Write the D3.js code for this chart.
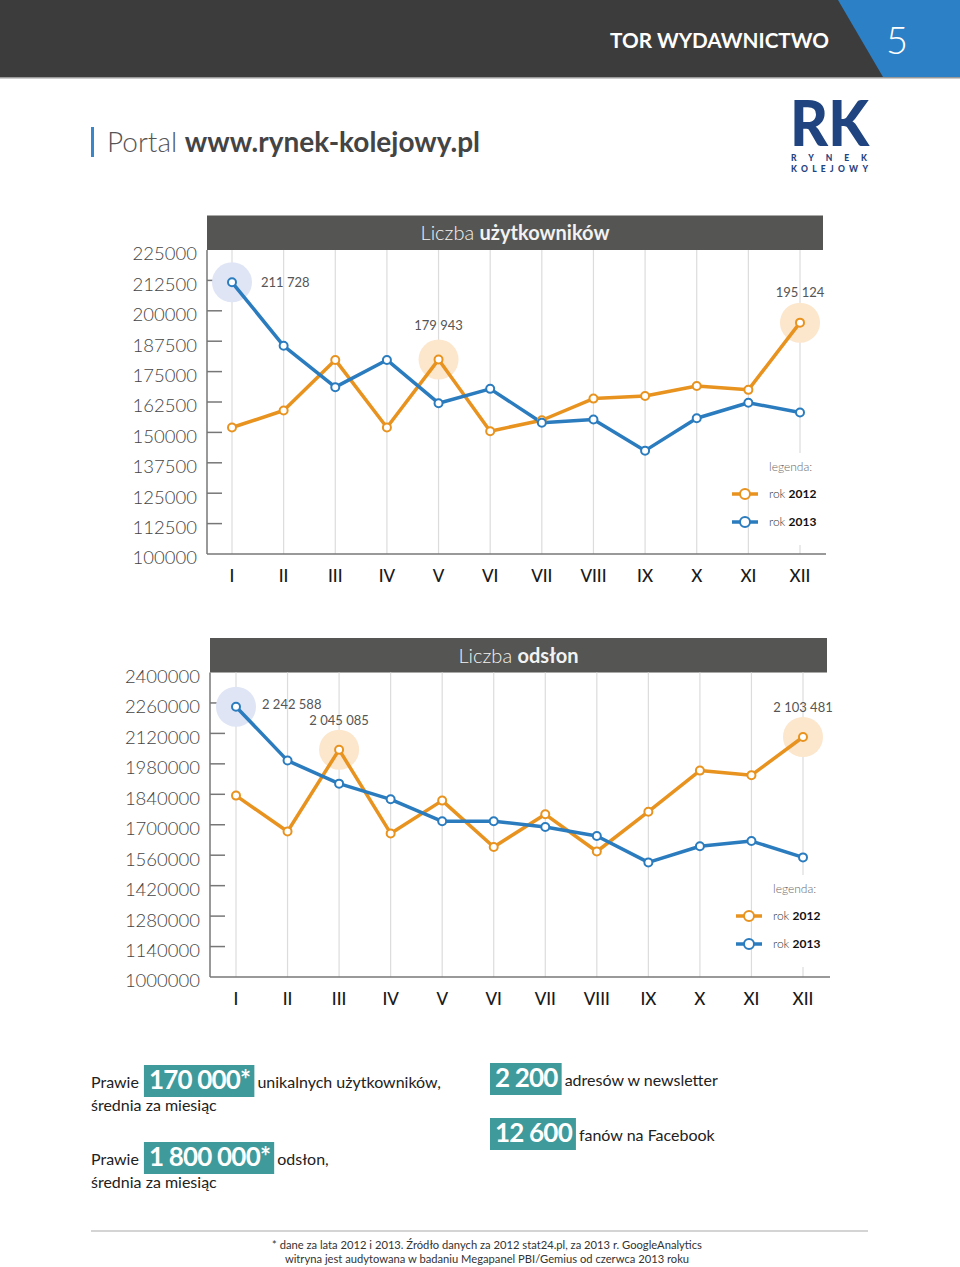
<!DOCTYPE html>
<html><head><meta charset="utf-8">
<script src="https://cdn.jsdelivr.net/npm/d3@7"></script>
<style>
body{margin:0;background:#fff;}
svg{display:block;font-family:Lato,"Open Sans",sans-serif;}
</style></head>
<body>
<svg id="c" width="960" height="1267"></svg>
<script>
// ---- data ----
const months = ["I","II","III","IV","V","VI","VII","VIII","IX","X","XI","XII"];
const users2012 = [152000,159000,179800,152000,179943,150500,155000,163900,165000,169100,167500,195124];
const users2013 = [211728,185600,168600,179800,162000,167900,154000,155300,142500,155800,162200,158200];
const usersTicks = [100000,112500,125000,137500,150000,162500,175000,187500,200000,212500,225000];
const views2012 = [1834000,1669000,2045085,1660000,1811000,1598000,1748000,1577000,1760000,1949000,1928000,2103481];
const views2013 = [2242588,1995000,1889000,1817000,1716000,1716000,1690000,1648000,1527000,1601000,1625000,1550000];
const viewsTicks = [1000000,1140000,1280000,1420000,1560000,1700000,1840000,1980000,2120000,2260000,2400000];
const seriesNames = ["2012","2013"];

const ORANGE = "#e8931f", BLUE = "#2b7cbf";
const HALO_O = "#fce6cc", HALO_B = "#dfe5f5";
const fmt = d3.formatLocale({decimal:",",thousands:" ",grouping:[3],currency:["",""]}).format(",d");

const svg = d3.select("#c");

// ---- page header ----
svg.append("rect").attr("x",0).attr("y",0).attr("width",960).attr("height",77).attr("fill","#3c3c3c");
svg.append("polygon").attr("points","838,0 960,0 960,77 883,77").attr("fill","#2c80c5");
svg.append("rect").attr("x",0).attr("y",77).attr("width",960).attr("height",1.5).attr("fill","#9a9a9a");
svg.append("text").attr("x",829).attr("y",48).attr("text-anchor","end").attr("fill","#fff")
  .attr("font-size",21).attr("font-weight",700).attr("textLength",219).attr("lengthAdjust","spacingAndGlyphs").text("TOR WYDAWNICTWO");
svg.append("text").attr("x",897).attr("y",54).attr("text-anchor","middle").attr("fill","#fff")
  .attr("font-size",38).attr("font-weight",300).text("5");

// title
svg.append("rect").attr("x",91).attr("y",127).attr("width",3).attr("height",30).attr("fill","#3a86c8");
const tt = svg.append("text").attr("x",107).attr("y",152).attr("font-size",28).attr("fill","#555");
tt.append("tspan").attr("font-weight",300).text("Portal ");
tt.append("tspan").attr("font-weight",700).attr("fill","#444").text("www.rynek-kolejowy.pl");

// logo
svg.append("text").attr("x",790).attr("y",146).attr("font-size",62).attr("font-weight",900)
  .attr("fill","#1f447f").attr("textLength",79).attr("lengthAdjust","spacingAndGlyphs").text("RK");
svg.append("text").attr("x",791).attr("y",161).attr("font-size",8.5).attr("font-weight",900)
  .attr("fill","#1f447f").attr("textLength",76).attr("lengthAdjust","spacing").text("RYNEK");
svg.append("text").attr("x",791).attr("y",172).attr("font-size",8.5).attr("font-weight",900)
  .attr("fill","#1f447f").attr("textLength",77).attr("lengthAdjust","spacing").text("KOLEJOWY");

// ---- chart drawer ----
function drawChart(o){
  const g = svg.append("g");
  const x = d3.scalePoint().domain(months).range([o.x0,o.x1]);
  const y = d3.scaleLinear().domain([o.ticks[0],o.ticks[o.ticks.length-1]]).range([o.yBottom,o.yTop]);
  // header bar
  g.append("rect").attr("x",o.left).attr("y",o.yTop-34.5).attr("width",o.right-o.left).attr("height",34.5).attr("fill","#555553");
  const ht = g.append("text").attr("x",(o.left+o.right)/2).attr("y",o.yTop-10).attr("text-anchor","middle")
    .attr("font-size",20).attr("fill","#f2f2f2");
  ht.append("tspan").attr("font-weight",300).text("Liczba ");
  ht.append("tspan").attr("font-weight",700).text(o.titleBold);
  // grid lines
  g.selectAll(".grid").data(months).join("line")
    .attr("x1",d=>x(d)).attr("x2",d=>x(d)).attr("y1",o.yTop).attr("y2",o.yBottom)
    .attr("stroke","#dcdcdc").attr("stroke-width",1.2);
  // legend background (covers grid)
  g.append("rect").attr("x",o.legX-15).attr("y",o.legY-14).attr("width",o.right-o.legX+13).attr("height",92).attr("fill","#fff");
  // left axis
  g.append("line").attr("x1",o.left).attr("x2",o.left).attr("y1",o.yTop).attr("y2",o.yBottom).attr("stroke","#777").attr("stroke-width",1.5);
  g.selectAll(".tk").data(o.ticks.slice(1,-1)).join("line")
    .attr("x1",o.left).attr("x2",o.left+15).attr("y1",d=>y(d)).attr("y2",d=>y(d)).attr("stroke","#777").attr("stroke-width",1.5);
  g.selectAll(".tl").data(o.ticks).join("text")
    .attr("x",o.left-10).attr("y",d=>y(d)+4).attr("dy","0.35em").attr("text-anchor","end")
    .attr("font-size",18.5).attr("font-weight",300).attr("fill","#444").text(d=>d);
  // bottom axis
  g.append("line").attr("x1",o.left).attr("x2",o.right+3).attr("y1",o.yBottom).attr("y2",o.yBottom).attr("stroke","#777").attr("stroke-width",1.5);
  g.selectAll(".xl").data(months).join("text")
    .attr("x",d=>x(d)).attr("y",o.yBottom+28).attr("text-anchor","middle")
    .attr("font-size",17).attr("font-weight",500).attr("fill","#1a1a1a").text(d=>d);
  // halos
  g.selectAll(".halo").data(o.halos).join("circle")
    .attr("cx",d=>x(months[d.i])).attr("cy",d=>y(d.s[d.i])).attr("r",20).attr("fill",d=>d.c);
  // lines
  const line = d3.line().x((d,i)=>x(months[i])).y(d=>y(d));
  [[o.s2012,ORANGE],[o.s2013,BLUE]].forEach(([s,c])=>{
    g.append("path").datum(s).attr("d",line).attr("fill","none").attr("stroke",c).attr("stroke-width",3.5).attr("stroke-linejoin","round");
  });
  [[o.s2012,ORANGE],[o.s2013,BLUE]].forEach(([s,c])=>{
    g.selectAll(null).data(s).join("circle").attr("cx",(d,i)=>x(months[i])).attr("cy",d=>y(d))
      .attr("r",4).attr("fill","#fff").attr("stroke",c).attr("stroke-width",2);
  });
  // value labels
  g.selectAll(".vl").data(o.labels).join("text")
    .attr("x",d=>x(months[d.i])+d.dx).attr("y",d=>y(d.s[d.i])+d.dy).attr("dy","0.35em")
    .attr("text-anchor",d=>d.anchor).attr("font-size",13).attr("fill","#555").text(d=>fmt(d.s[d.i]));
  // legend
  g.append("text").attr("x",o.legX).attr("y",o.legY).attr("dy","0.35em").attr("font-size",12).attr("fill","#666").attr("font-weight",300).text("legenda:");
  seriesNames.forEach((n,k)=>{
    const ly = o.legY+27+k*28, c = k===0?ORANGE:BLUE;
    g.append("line").attr("x1",o.legX-37).attr("x2",o.legX-11).attr("y1",ly).attr("y2",ly).attr("stroke",c).attr("stroke-width",3.5);
    g.append("circle").attr("cx",o.legX-24).attr("cy",ly).attr("r",5).attr("fill","#fff").attr("stroke",c).attr("stroke-width",2);
    const t = g.append("text").attr("x",o.legX).attr("y",ly).attr("dy","0.35em").attr("font-size",12).attr("fill","#333");
    t.append("tspan").attr("font-weight",300).text("rok ");
    t.append("tspan").attr("font-weight",700).attr("fill","#111").text(n);
  });
}

drawChart({
  left:207,right:823,x0:232,x1:800,yTop:250,yBottom:554,ticks:usersTicks,
  titleBold:"użytkowników",s2012:users2012,s2013:users2013,legX:769,legY:467,
  halos:[{i:0,s:users2013,c:HALO_B},{i:4,s:users2012,c:HALO_O},{i:11,s:users2012,c:HALO_O}],
  labels:[{i:0,s:users2013,dx:29,dy:0,anchor:"start"},{i:4,s:users2012,dx:0,dy:-34,anchor:"middle"},{i:11,s:users2012,dx:0,dy:-30,anchor:"middle"}]
});
drawChart({
  left:210,right:827,x0:236,x1:803,yTop:672.5,yBottom:977,ticks:viewsTicks,
  titleBold:"odsłon",s2012:views2012,s2013:views2013,legX:773,legY:889,
  halos:[{i:0,s:views2013,c:HALO_B},{i:2,s:views2012,c:HALO_O},{i:11,s:views2012,c:HALO_O}],
  labels:[{i:0,s:views2013,dx:26,dy:-2,anchor:"start"},{i:2,s:views2012,dx:0,dy:-29,anchor:"middle"},{i:11,s:views2012,dx:0,dy:-30,anchor:"middle"}]
});

// ---- summary facts ----
const facts = [
  {x:91,y:1082,pre:"Prawie",big:"170 000*",post:"unikalnych użytkowników,",line2:"średnia za miesiąc"},
  {x:91,y:1159,pre:"Prawie",big:"1 800 000*",post:"odsłon,",line2:"średnia za miesiąc"},
  {x:490,y:1080,pre:"",big:"2 200",post:"adresów w newsletter",line2:""},
  {x:490,y:1135,pre:"",big:"12 600",post:"fanów na Facebook",line2:""}
];
facts.forEach(f=>{
  let cx = f.x;
  if(f.pre){
    const t = svg.append("text").attr("x",cx).attr("y",f.y).attr("dy","0.35em").attr("font-size",16).attr("fill","#222").text(f.pre);
    cx += t.node().getComputedTextLength()+5;
  }
  const box = svg.append("rect").attr("x",cx).attr("y",f.y-17).attr("height",32).attr("fill","#3e9a9b");
  const bt = svg.append("text").attr("x",cx+5).attr("y",f.y-2).attr("dy","0.35em").attr("font-size",26).attr("font-weight",700).attr("fill","#fff").attr("letter-spacing",-0.8).text(f.big);
  const bw = bt.node().getComputedTextLength()+9;
  box.attr("width",bw);
  svg.append("text").attr("x",cx+bw+3).attr("y",f.y).attr("dy","0.35em").attr("font-size",16).attr("fill","#222").text(f.post);
  if(f.line2) svg.append("text").attr("x",f.x).attr("y",f.y+23).attr("dy","0.35em").attr("font-size",16).attr("fill","#222").text(f.line2);
});

// footer
svg.append("line").attr("x1",91).attr("x2",868).attr("y1",1231).attr("y2",1231).attr("stroke","#aaa").attr("stroke-width",1.2);
svg.append("text").attr("x",487).attr("y",1245).attr("dy","0.35em").attr("text-anchor","middle").attr("font-size",11.2).attr("fill","#333")
  .text("* dane za lata 2012 i 2013. Źródło danych za 2012 stat24.pl, za 2013 r. GoogleAnalytics");
svg.append("text").attr("x",487).attr("y",1259).attr("dy","0.35em").attr("text-anchor","middle").attr("font-size",11.2).attr("fill","#333")
  .text("witryna jest audytowana w badaniu Megapanel PBI/Gemius od czerwca 2013 roku");
</script>
</body></html>
